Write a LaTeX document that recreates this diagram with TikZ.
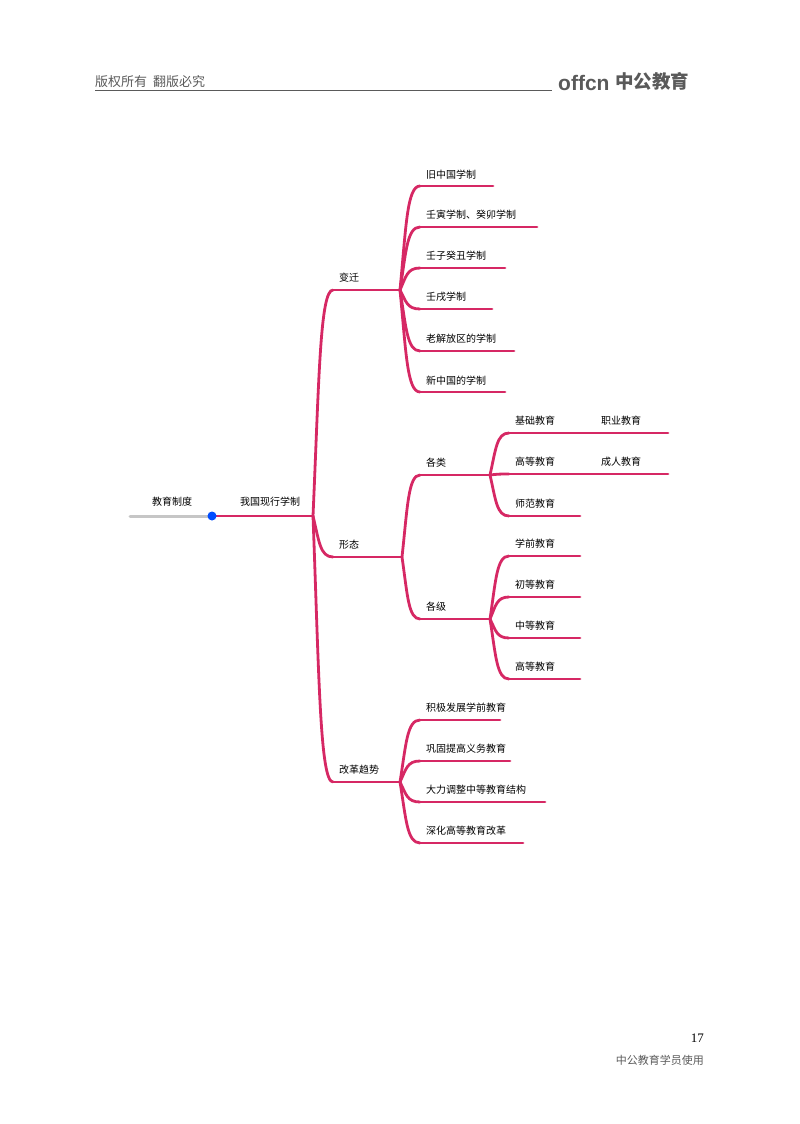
\documentclass[tikz,border=0pt]{standalone}
\usepackage{fontspec}
\setmainfont{Liberation Serif}
\newfontfamily\cjk{Noto Sans CJK SC}
\newfontfamily\lsans{Liberation Sans}
\usetikzlibrary{calc}
\definecolor{mm}{RGB}{214,40,100}
\definecolor{hd}{RGB}{90,90,90}
\tikzset{
  bar/.style={mm,line width=2.8pt,line cap=round},
  lab/.style={anchor=south,inner sep=0pt,font=\cjk\fontsize{10}{11}\selectfont},
}
\newcommand{\tn}[5]{% name x1 x2 y text
  \coordinate (#1-s) at (#2,#4); \coordinate (#1-e) at (#3,#4);
  \draw[bar] (#1-s) -- (#1-e);
  \node[lab,anchor=south west] (#1) at ($(#1-s)+(6,-7)$) {#5};}
\newcommand{\br}[2]{% parent end -> child start
  \draw[bar] let \p1=(#1), \p2=(#2) in (\p1) .. controls ($(\p1)!0.3!(\x2,\y1)+(0,{0.6*(\y2-\y1)})$) and ($(\x1,\y2)!0.35!(\p2)$) .. (\p2);}
\begin{document}
\begin{tikzpicture}[x=1pt,y=-1pt]
\useasboundingbox (0,0) rectangle (800,1124);
% header
\node[anchor=south west,inner sep=0pt,text=hd,font=\cjk\fontsize{13}{14}\selectfont] (hl) at (95,88) {版权所有\ \ 翻版必究};
\coordinate (hr) at (552,90);
\draw[hd,line width=0.6pt] (95,90) -- (hr);
\node[anchor=south west,inner sep=0pt,text=hd,font=\lsans\bfseries\fontsize{21}{22}\selectfont] (lg) at (558,91) {offcn};
\node[anchor=south west,inner sep=0pt,text=hd,font=\cjk\bfseries\fontsize{18.5}{19}\selectfont] (lg2) at (615,91) {中公教育};
% footer
\node[anchor=south east,inner sep=0pt,font=\fontsize{13}{14}\selectfont] (pg) at (704,1043) {17};
\node[anchor=south east,inner sep=0pt,text=hd,font=\cjk\fontsize{11}{12}\selectfont] (ft) at (704,1066) {中公教育学员使用};
% root
\coordinate (r-s) at (130,516); \coordinate (r-e) at (212,516);
\draw[gray!45,line width=3pt,line cap=round] (r-s) -- (r-e);
\node[lab] (root) at (172,507) {教育制度};
\coordinate (a-s) at (212,516); \coordinate (a-e) at (313,516);
\draw[bar] (a-s) -- (a-e);
\node[lab] (a) at (270,507) {我国现行学制};
\fill[blue!70!cyan] (r-e) circle (4.5);
% level 2
\tn{b1}{333}{400}{290}{变迁}
\tn{b2}{333}{402}{557}{形态}
\tn{b3}{333}{400}{782}{改革趋势}
\br{a-e}{b1-s}\br{a-e}{b2-s}\br{a-e}{b3-s}
% 变迁
\tn{c1}{420}{493}{186}{旧中国学制}
\tn{c2}{420}{537}{227}{壬寅学制、癸卯学制}
\tn{c3}{420}{505}{268}{壬子癸丑学制}
\tn{c4}{420}{492}{309}{壬戌学制}
\tn{c5}{420}{514}{351}{老解放区的学制}
\tn{c6}{420}{505}{392}{新中国的学制}
\foreach \i in {1,...,6}{\br{b1-e}{c\i-s}}
% 形态
\tn{d1}{420}{490}{475}{各类}
\tn{d2}{420}{490}{619}{各级}
\br{b2-e}{d1-s}\br{b2-e}{d2-s}
\tn{e1}{509}{595}{433}{基础教育}
\tn{e1b}{595}{668}{433}{职业教育}
\tn{e2}{509}{595}{474}{高等教育}
\tn{e2b}{595}{668}{474}{成人教育}
\tn{e3}{509}{580}{516}{师范教育}
\br{d1-e}{e1-s}\br{d1-e}{e2-s}\br{d1-e}{e3-s}
\tn{f1}{509}{580}{556}{学前教育}
\tn{f2}{509}{580}{597}{初等教育}
\tn{f3}{509}{580}{638}{中等教育}
\tn{f4}{509}{580}{679}{高等教育}
\foreach \i in {1,...,4}{\br{d2-e}{f\i-s}}
% 改革趋势
\tn{g1}{420}{500}{720}{积极发展学前教育}
\tn{g2}{420}{510}{761}{巩固提高义务教育}
\tn{g3}{420}{545}{802}{大力调整中等教育结构}
\tn{g4}{420}{523}{843}{深化高等教育改革}
\foreach \i in {1,...,4}{\br{b3-e}{g\i-s}}
\end{tikzpicture}
\end{document}
